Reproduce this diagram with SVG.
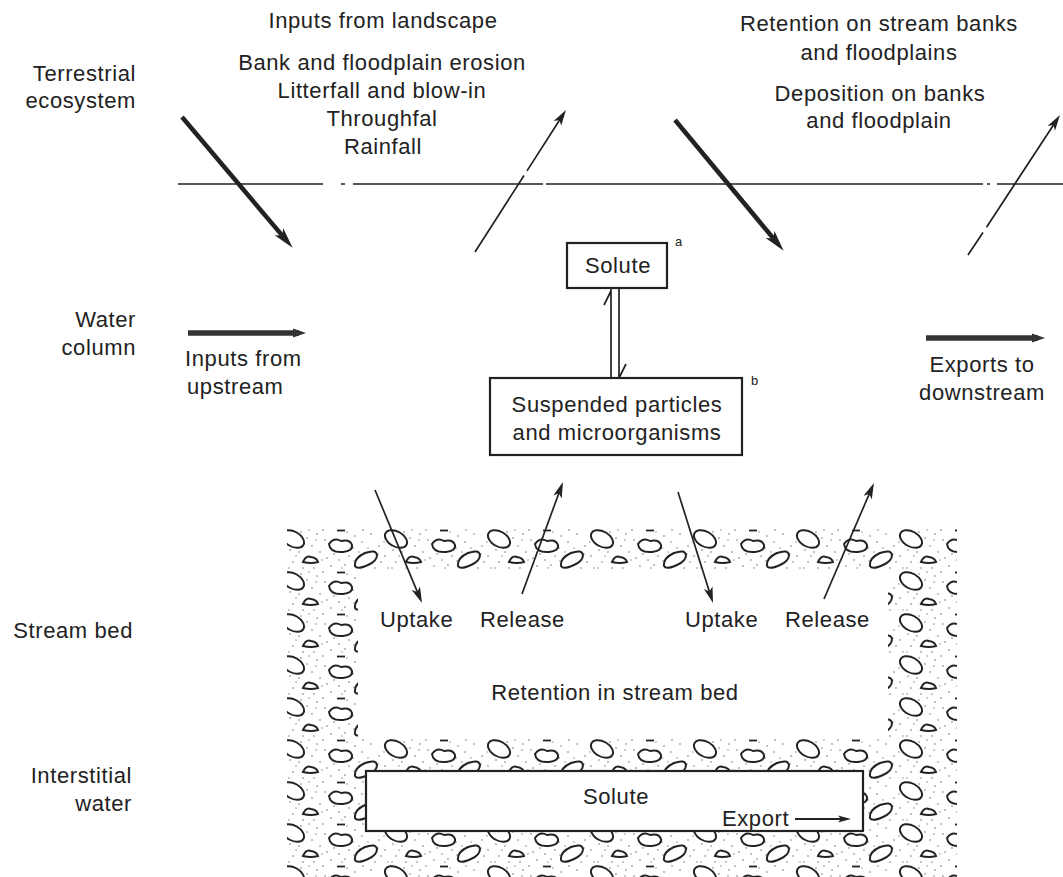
<svg xmlns="http://www.w3.org/2000/svg" width="1063" height="877" viewBox="0 0 1063 877">
<style>
text{font-family:"Liberation Sans",Arial,sans-serif;font-size:22px;letter-spacing:0.6px;fill:#222}
.c{text-anchor:middle}.e{text-anchor:end}
.sup{font-size:13px;letter-spacing:0}
.box{fill:#fff;stroke:#222;stroke-width:2.2}
.thick{stroke:#222;stroke-width:4.5;fill:none}
.thin{stroke:#222;stroke-width:1.7;fill:none}
.flow{stroke:#333;stroke-width:5.5;fill:none}
.peb{fill:#fff;stroke:#222;stroke-width:2}
.dot{fill:#777}
</style>
<defs>
<marker id="hThick" markerUnits="userSpaceOnUse" markerWidth="22" markerHeight="12" refX="10" refY="6" orient="auto"><path d="M0,0.5 L21,6 L0,11.5 L5,6z" fill="#222"/></marker>
<marker id="hThin" markerUnits="userSpaceOnUse" markerWidth="18" markerHeight="10" refX="8" refY="5" orient="auto"><path d="M0,0.5 L16,5 L0,9.5 L4,5z" fill="#222"/></marker>
<marker id="hFlow" markerUnits="userSpaceOnUse" markerWidth="14" markerHeight="10" refX="6" refY="5" orient="auto"><path d="M0,0.5 L13,5 L0,9.5z" fill="#333"/></marker>
<marker id="hSmall" markerUnits="userSpaceOnUse" markerWidth="14" markerHeight="8" refX="7" refY="4" orient="auto"><path d="M0,0.5 L13,4 L0,7.5 L3,4z" fill="#222"/></marker>
<pattern id="gravel" patternUnits="userSpaceOnUse" x="287" y="528" width="103" height="42">
<rect width="103" height="42" fill="#fff"/>
<g class="dot">
<circle cx="14" cy="4" r="0.8"/><circle cx="30" cy="6" r="0.8"/><circle cx="38" cy="12" r="0.8"/><circle cx="25" cy="18" r="0.8"/><circle cx="33" cy="24" r="0.8"/><circle cx="40" cy="30" r="0.8"/><circle cx="47" cy="26" r="0.8"/><circle cx="62" cy="28" r="0.8"/><circle cx="68" cy="8" r="0.8"/><circle cx="75" cy="14" r="0.8"/><circle cx="84" cy="6" r="0.8"/><circle cx="92" cy="18" r="0.8"/><circle cx="98" cy="28" r="0.8"/><circle cx="12" cy="24" r="0.8"/><circle cx="6" cy="34" r="0.8"/><circle cx="44" cy="38" r="0.8"/><circle cx="58" cy="37" r="0.8"/><circle cx="88" cy="40" r="0.8"/><circle cx="100" cy="6" r="0.8"/><circle cx="20" cy="10" r="0.8"/><circle cx="36" cy="2" r="0.8"/><circle cx="66" cy="20" r="0.8"/><circle cx="94" cy="34" r="0.8"/><circle cx="3" cy="22" r="0.8"/><circle cx="52" cy="32" r="0.8"/><circle cx="27" cy="40" r="0.8"/><circle cx="76" cy="2" r="0.8"/><circle cx="16" cy="40" r="0.8"/>
<circle cx="22" cy="2" r="0.7"/><circle cx="9" cy="28" r="0.7"/><circle cx="35" cy="32" r="0.7"/><circle cx="29" cy="12" r="0.7"/><circle cx="60" cy="4" r="0.7"/><circle cx="67" cy="33" r="0.7"/><circle cx="81" cy="20" r="0.7"/><circle cx="97" cy="14" r="0.7"/><circle cx="101" cy="40" r="0.7"/><circle cx="48" cy="22" r="0.7"/><circle cx="55" cy="40" r="0.7"/><circle cx="91" cy="26" r="0.7"/><circle cx="2" cy="40" r="0.7"/><circle cx="72" cy="24" r="0.7"/>
</g>
<ellipse class="peb" cx="6" cy="11" rx="12" ry="7.5" transform="rotate(30 6 11)"/>
<ellipse class="peb" cx="109" cy="11" rx="12" ry="7.5" transform="rotate(30 109 11)"/>
<path class="peb" d="M42,16 q5,-7 12,-3 q9,-2 11,4 q1,6 -9,7 q-13,1 -14,-8z"/>
<path d="M50,2.5 h8" stroke="#222" stroke-width="1.8"/>
<path class="peb" d="M16,34 q3,-7 8,-5 q6,1 7,5 q-7,2 -15,0z"/>
<path class="peb" d="M68,38 q-1,-8 10,-13 q11,-4 12,2 q0,6 -9,10 q-11,5 -13,1z"/>
</pattern>
</defs>

<g id="gravel-bed">
<rect x="287" y="528" width="670" height="349" fill="url(#gravel)"/>
<rect x="358" y="569" width="530" height="168" fill="#fff"/>
</g>

<g id="boundary">
<path d="M178,184 H323 M341,184 H345 M353,184 H543 M546,184 H983 M987,184 H990 M997,184 H1063" stroke="#222" stroke-width="1.6" fill="none"/>
</g>

<g id="label-terrestrial"><text class="e" x="136" y="81">Terrestrial</text><text class="e" x="136" y="108">ecosystem</text></g>
<g id="label-water-column"><text class="e" x="136" y="327">Water</text><text class="e" x="136" y="355">column</text></g>
<g id="label-stream-bed"><text class="e" x="133" y="638">Stream bed</text></g>
<g id="label-interstitial"><text class="e" x="132" y="783">Interstitial</text><text class="e" x="132" y="811">water</text></g>

<g id="inputs-landscape">
<text class="c" x="383" y="28">Inputs from landscape</text>
<text class="c" x="382" y="70">Bank and floodplain erosion</text>
<text class="c" x="382" y="98">Litterfall and blow-in</text>
<text class="c" x="382" y="126">Throughfal</text>
<text class="c" x="383" y="154">Rainfall</text>
</g>
<g id="retention-banks">
<text class="c" x="879" y="31">Retention on stream banks</text>
<text class="c" x="879" y="60">and floodplains</text>
<text class="c" x="880" y="101">Deposition on banks</text>
<text class="c" x="879" y="128">and floodplain</text>
</g>

<g id="inputs-upstream"><text x="185" y="366">Inputs from</text><text x="187" y="394">upstream</text></g>
<g id="exports-downstream"><text class="c" x="982" y="372">Exports to</text><text class="c" x="982" y="400">downstream</text></g>

<g id="solute">
<rect class="box" x="567" y="243" width="100" height="45"/>
<text class="c" x="618" y="273">Solute</text>
<text class="sup" x="675" y="246">a</text>
</g>
<g id="suspended">
<rect class="box" x="490" y="378" width="252" height="77"/>
<text class="c" x="617" y="412">Suspended particles</text>
<text class="c" x="617" y="440">and microorganisms</text>
<text class="sup" x="751" y="385">b</text>
</g>

<g id="stream-bed-labels">
<text x="380" y="627">Uptake</text>
<text x="480" y="627">Release</text>
<text x="685" y="627">Uptake</text>
<text x="785" y="627">Release</text>
<text class="c" x="615" y="700">Retention in stream bed</text>
</g>

<g id="interstitial-solute">
<rect class="box" x="366" y="771" width="497" height="60"/>
<text class="c" x="616" y="804">Solute</text>
<text x="722" y="826">Export</text>
</g>

<g id="connectors">
<path class="thick" d="M182,117 L285.5,239.4" marker-end="url(#hThick)"/>
<path class="thick" d="M675,120 L776.6,242.3" marker-end="url(#hThick)"/>
<path class="thin" d="M475,252 L524,175.5 M527,170.9 L561.7,116.7" marker-end="url(#hThin)"/>
<path class="thin" d="M968,255 L983,232.5 M986.5,227.2 L1055.6,121.7" marker-end="url(#hThin)"/>
<path class="flow" d="M188,333 H299" marker-end="url(#hFlow)"/>
<path class="flow" d="M926,338 H1038" marker-end="url(#hFlow)"/>
<path class="thin" d="M611,378 V289 M604,305 L611,291"/>
<path class="thin" d="M619,288 V377 M626,364 L619.5,377"/>
<path class="thin" d="M375,490 L418.9,595.6" marker-end="url(#hThin)"/>
<path class="thin" d="M522,594 L560.2,489.5" marker-end="url(#hThin)"/>
<path class="thin" d="M678,492 L710.6,595.4" marker-end="url(#hThin)"/>
<path class="thin" d="M824,599 L870.8,490.3" marker-end="url(#hThin)"/>
<path d="M795,819 H845" stroke="#222" stroke-width="2.2" fill="none" marker-end="url(#hSmall)"/>
</g>
</svg>
